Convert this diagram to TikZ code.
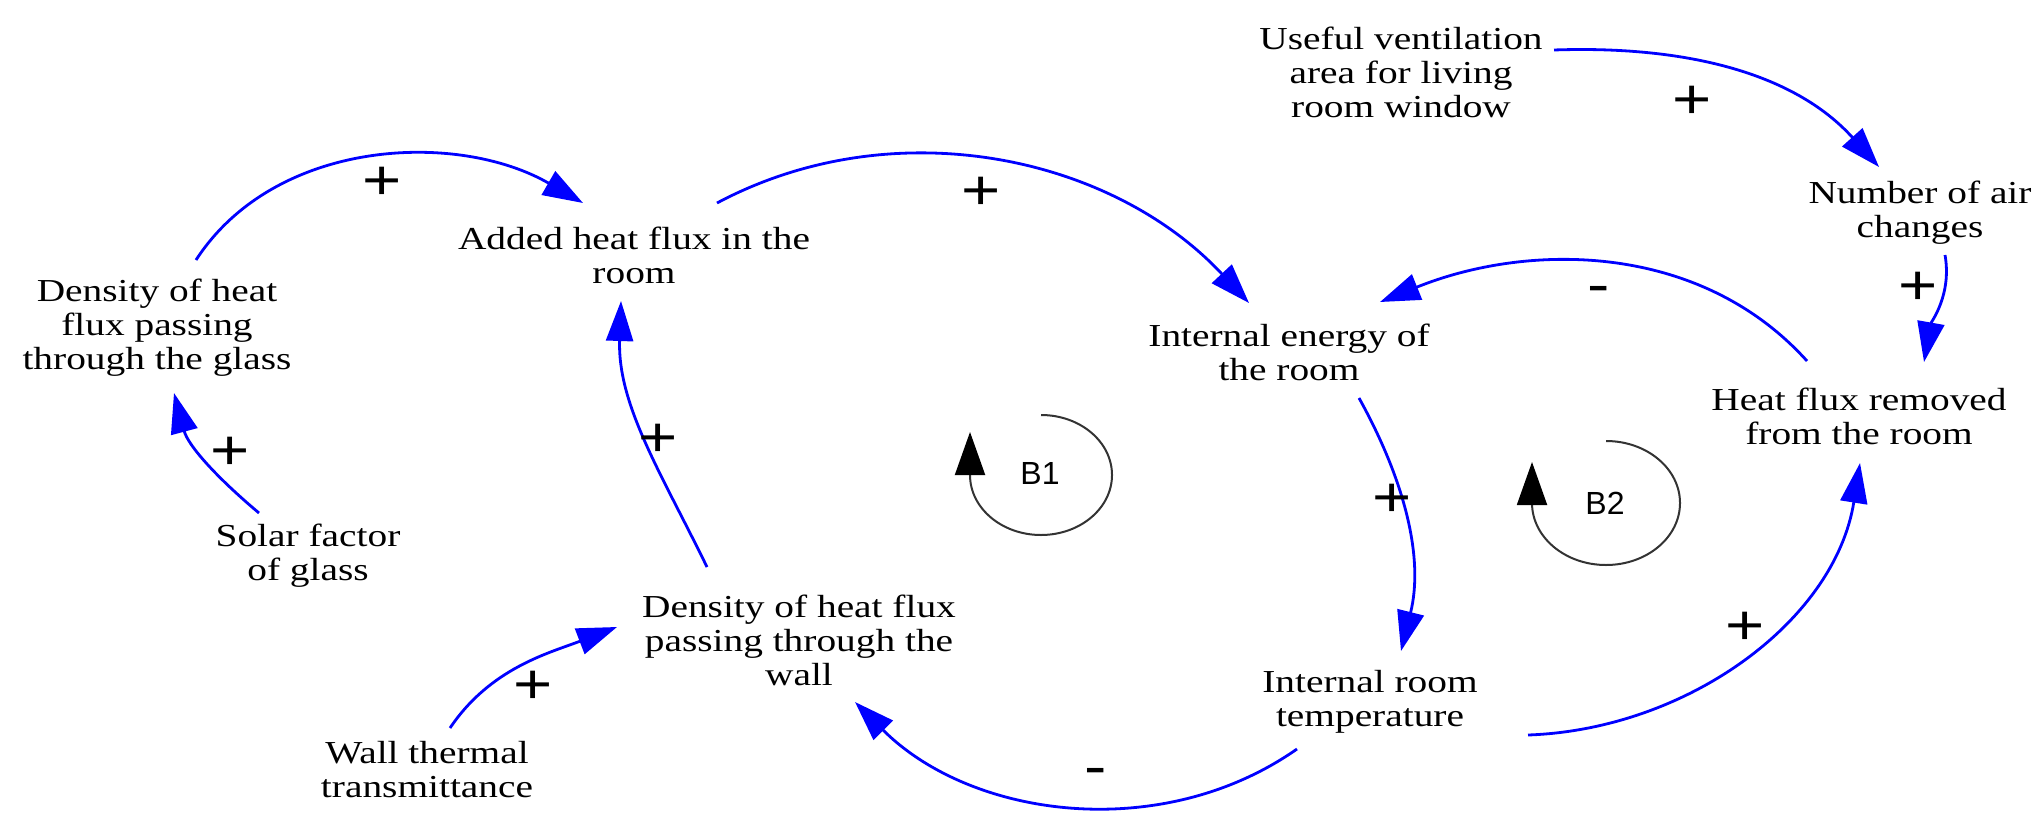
\documentclass[tikz,border=0pt]{standalone}
\usepackage{fontspec}
\setmainfont{Liberation Serif}[FakeStretch=1.23]
\newfontfamily\signfont{Liberation Sans}[FakeStretch=1.2]
\newfontfamily\loopfont{Liberation Sans}
\usetikzlibrary{arrows.meta}
\definecolor{linkblue}{RGB}{0,0,255}
\begin{document}
\begin{tikzpicture}[x=0.5pt,y=0.5pt,
  var/.style={font=\fontsize{16}{17}\selectfont, align=center, inner sep=0pt},
  link/.style={draw=linkblue, line width=1.4pt, looseness=0.95, -{Triangle[length=20pt,width=13.5pt]}},
  sign/.style={font=\signfont\fontsize{28}{28}\selectfont, inner sep=0pt},
  loopline/.style={draw=black!80, line width=1pt, -{Triangle[length=21.5pt,width=15pt,color=black]}},
  looplabel/.style={font=\loopfont\fontsize{16}{16}\selectfont, inner sep=0pt}]
\useasboundingbox (0,0) rectangle (2043,-829);

% variables
\node[var] (glass)  at (157,-328)  {Density of heat\\flux passing\\through the glass};
\node[var] (added)  at (634,-255)  {Added heat flux in the\\room};
\node[var] (ie)     at (1289,-352) {Internal energy of\\the room};
\node[var] (useful) at (1401,-72)  {Useful ventilation\\area for living\\room window};
\node[var] (nac)    at (1920,-213) {Number of air\\changes};
\node[var] (hr)     at (1859,-416) {Heat flux removed\\from the room};
\node[var] (solar)  at (308,-556)  {Solar factor\\of glass};
\node[var] (wd)     at (799,-640)  {Density of heat flux\\passing through the\\wall};
\node[var] (wt)     at (427,-770)  {Wall thermal\\transmittance};
\node[var] (temp)   at (1370,-702) {Internal room\\temperature};

% links
\draw[link] ([shift={(39,68)}]glass.center) to[out=57, in=150] ([shift={(-51,52)}]added.center);
\draw[link] ([shift={(83,52)}]added.center) to[out=28, in=133] ([shift={(-40,49)}]ie.center);
\draw[link] ([shift={(153,22)}]useful.center) to[out=2, in=132] ([shift={(-41,46)}]nac.center);
\draw[link] ([shift={(25,-42)}]nac.center) to[out=-80, in=80] ([shift={(65,54)}]hr.center);
\draw[link] ([shift={(-52,55)}]hr.center) to[out=132, in=22] ([shift={(91,50)}]ie.center);
\draw[link] ([shift={(70,-46)}]ie.center) to[out=-61, in=76] ([shift={(31,51)}]temp.center);
\draw[link] ([shift={(-73,-47)}]temp.center) to[out=-145, in=-45] ([shift={(56,-62)}]wd.center);
\draw[link] ([shift={(158,-33)}]temp.center) to[out=2, in=-99] ([shift={(1,-47)}]hr.center);
\draw[link] ([shift={(-49,43)}]solar.center) to[out=140, in=-75] ([shift={(17,-65)}]glass.center);
\draw[link] ([shift={(-92,73)}]wd.center) to[out=116, in=-92] ([shift={(-13,-46)}]added.center);
\draw[link] ([shift={(23,42)}]wt.center) to[out=56, in=-159] ([shift={(-182,13)}]wd.center);

% polarity signs
\node[sign] (s1)  at (382,-183)  {+};
\node[sign] (s2)  at (981,-193)  {+};
\node[sign] (s3)  at (1692,-102) {+};
\node[sign] (s4)  at (1918,-288) {+};
\node[sign] (s5)  at (1599,-295) {-};
\node[sign] (s6)  at (1392,-500) {+};
\node[sign] (s7)  at (1096,-777) {-};
\node[sign] (s8)  at (1745,-628) {+};
\node[sign] (s9)  at (230,-453)  {+};
\node[sign] (s10) at (658,-440)  {+};
\node[sign] (s11) at (533,-687)  {+};

% loop markers
\draw[loopline] (1041,-415) arc[start angle=90, end angle=-180, x radius=71, y radius=60] -- ++(0,43);
\node[looplabel] (b1) at (1040,-473) {B1};
\draw[loopline] (1606,-441) arc[start angle=90, end angle=-180, x radius=74, y radius=62] -- ++(0,41);
\node[looplabel] (b2) at (1605,-503) {B2};
\end{tikzpicture}
\end{document}
